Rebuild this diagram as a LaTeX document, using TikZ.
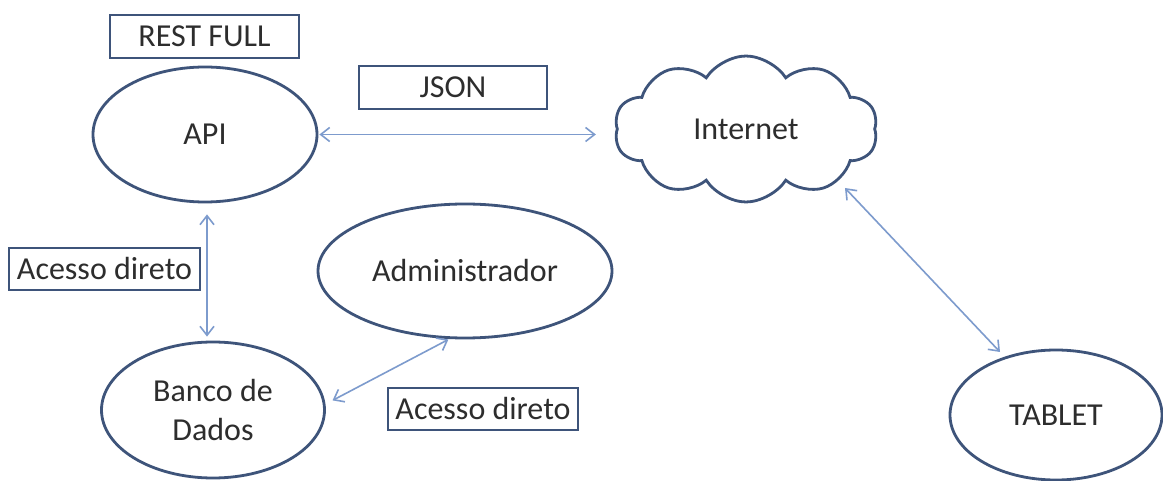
\documentclass[tikz,border=0pt]{standalone}
\usepackage{fontspec}
\setmainfont{Carlito}
\usetikzlibrary{shapes.geometric,shapes.symbols,arrows.meta,calc}
\definecolor{edgecol}{RGB}{62,84,122}
\definecolor{arrcol}{RGB}{125,155,205}
\definecolor{txtcol}{RGB}{45,45,45}
\tikzset{
  lbl/.style={font=\fontsize{32}{39}\selectfont, text=txtcol},
  oval/.style={ellipse, draw=edgecol, line width=2.8pt, lbl, inner sep=0pt},
  tagbox/.style={rectangle, draw=edgecol, line width=2.8pt, lbl, inner sep=0pt},
  webcloud/.style={cloud, cloud puffs=10, cloud puff arc=115, aspect=1.8, draw=edgecol, line width=2.8pt, lbl, inner sep=0pt},
  arr/.style={draw=arrcol, line width=1.6pt, {Straight Barb[length=9pt,width=14pt,line width=1.6pt]}-{Straight Barb[length=9pt,width=14pt,line width=1.6pt]}}
}
\begin{document}
\begin{tikzpicture}[x=1pt,y=-1pt]
\useasboundingbox[fill=white] (0,0) rectangle (1163,481);
% labels in boxes
\node[tagbox, minimum width=189pt, minimum height=43pt] (rest) at (204.5,36.5) {REST FULL};
\node[tagbox, minimum width=188pt, minimum height=43pt] (json) at (453,87.5) {JSON};
\node[tagbox, minimum width=191pt, minimum height=42pt] (acc1) at (104.5,269) {Acesso direto};
\node[tagbox, minimum width=190pt, minimum height=42pt] (acc2) at (483,409) {Acesso direto};
% ellipses
\node[oval, minimum width=224pt, minimum height=135pt] (api) at (205,134.5) {API};
\node[oval, minimum width=223pt, minimum height=136pt, align=center] (banco) at (213,410) {Banco de\\Dados};
\node[oval, minimum width=294pt, minimum height=134pt] (admin) at (465,271) {Administrador};
\node[oval, minimum width=212pt, minimum height=130pt] (tablet) at (1056,415) {TABLET};
% cloud
\node[webcloud, minimum width=263pt, minimum height=146pt] (inet) at (746,129) {Internet};
% connectors
\draw[arr, shorten <=1pt, shorten >=20pt] (api.east) -- (api.east -| inet.west);
\draw[arr, shorten <=11pt, shorten >=4pt] ([xshift=2pt]api.south) -- ([xshift=2pt]api.south |- banco.north);
\draw[arr, shorten <=1pt, shorten >=8pt] (admin.-103) -- (banco.3);
\draw[arr] ($(inet.center)+(99,59)$) -- ($(tablet.center)+(-56,-63)$);
\end{tikzpicture}
\end{document}
